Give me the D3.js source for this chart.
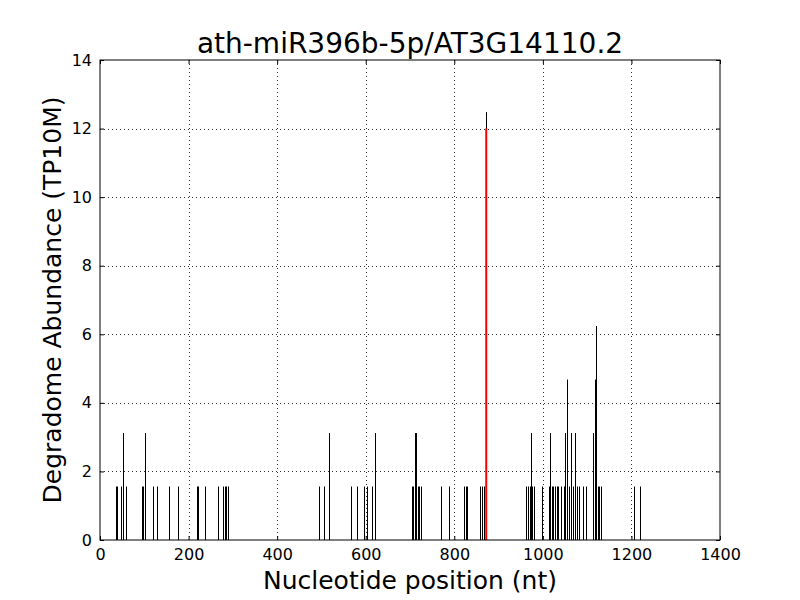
<!DOCTYPE html>
<html lang="en">

<head>
    <meta charset="UTF-8">
    <title>ath-miR396b-5p/AT3G14110.2</title>
    <style>
        body { margin: 0; background: #fff; }
        text { font-family: "DejaVu Sans", sans-serif; }
    </style>
</head>

<body>
    <script src="https://cdn.jsdelivr.net/npm/d3@7"></script>
    <script>
        const title = 'ath-miR396b-5p/AT3G14110.2';
        const x_label = 'Nucleotide position (nt)';
        const y_label = 'Degradome Abundance (TP10M)';

        // degradome reads: position (nt) and abundance (TP10M)
        const positions = [36, 39, 47, 52, 58, 94, 97, 101, 120, 129, 156, 177, 220, 222, 236, 267, 278, 282, 284, 290,
            495, 506, 518, 567, 581, 597, 603, 615, 622, 704, 707, 711, 713, 717, 721, 724, 771, 787, 823, 826, 829,
            859, 862, 866, 871, 963, 967, 971, 974, 976, 981, 997, 1013, 1016, 1020, 1024, 1027, 1031, 1035, 1040,
            1048, 1051, 1055, 1060, 1064, 1069, 1073, 1078, 1081, 1091, 1097, 1114, 1117, 1120, 1124, 1127, 1132,
            1206, 1220];
        const abundance = [1.56, 1.56, 1.56, 3.12, 1.56, 1.56, 1.56, 3.12, 1.56, 1.56, 1.56, 1.56, 1.56, 1.56, 1.56, 1.56, 1.56, 1.56, 1.56, 1.56,
            1.56, 1.56, 3.12, 1.56, 1.56, 1.56, 1.56, 1.56, 3.12, 1.56, 1.56, 3.12, 3.12, 1.56, 1.56, 1.56, 1.56, 1.56, 1.56, 1.56, 1.56,
            1.56, 1.56, 1.56, 12.48, 1.56, 1.56, 1.56, 3.12, 1.56, 1.56, 1.56, 1.56, 3.12, 1.56, 1.56, 1.56, 1.56, 1.56, 1.56,
            1.56, 3.12, 4.68, 1.56, 3.12, 1.56, 3.12, 1.56, 1.56, 1.56, 1.56, 3.12, 4.68, 6.24, 1.56, 1.56, 1.56,
            1.56, 1.56];

        // predicted cleavage site (red)
        const target_pos = [871];
        const target_val = [12.0];

        const x_ticks = [0, 200, 400, 600, 800, 1000, 1200, 1400];
        const y_ticks = [0, 2, 4, 6, 8, 10, 12, 14];

        const svg_w = 800;
        const svg_h = 600;
        const margin = { top: 60, right: 80, bottom: 60, left: 100 };

        const svg = d3.select('body').append('svg')
            .attr('width', svg_w)
            .attr('height', svg_h);

        const x = d3.scaleLinear().domain([0, 1400]).range([margin.left, svg_w - margin.right]);
        const y = d3.scaleLinear().domain([0, 14]).range([svg_h - margin.bottom, margin.top]);

        // dotted grid
        svg.append('g').selectAll('line.gx')
            .data(x_ticks.slice(1, -1))
            .enter().append('line')
            .attr('x1', d => Math.round(x(d)) + 0.5).attr('x2', d => Math.round(x(d)) + 0.5)
            .attr('y1', y(14)).attr('y2', y(0))
            .attr('stroke', '#000').attr('stroke-width', 0.8)
            .attr('stroke-dasharray', '1,3');
        svg.append('g').selectAll('line.gy')
            .data(y_ticks.slice(1, -1))
            .enter().append('line')
            .attr('y1', d => Math.round(y(d)) + 0.5).attr('y2', d => Math.round(y(d)) + 0.5)
            .attr('x1', x(0)).attr('x2', x(1400))
            .attr('stroke', '#000').attr('stroke-width', 0.8)
            .attr('stroke-dasharray', '1,3');

        // reads
        svg.append('g').selectAll('line')
            .data(positions)
            .enter().append('line')
            .attr('x1', d => Math.round(x(d)) + 0.5).attr('x2', d => Math.round(x(d)) + 0.5)
            .attr('y1', y(0))
            .attr('y2', (d, i) => y(abundance[i]))
            .attr('stroke', '#000').attr('stroke-width', 1);

        svg.append('g').selectAll('line')
            .data(target_pos)
            .enter().append('line')
            .attr('x1', d => x(d) + 0.5).attr('x2', d => x(d) + 0.5)
            .attr('y1', y(0))
            .attr('y2', (d, i) => y(target_val[i]))
            .attr('stroke', '#ff0000').attr('stroke-width', 2);

        // axes, matplotlib classic style: ticks inside on all four sides
        const ax_b = svg.append('g').attr('transform', `translate(0,${y(0)})`)
            .call(d3.axisBottom(x).tickValues(x_ticks).tickFormat(d3.format('d'))
                .tickSizeInner(-4).tickSizeOuter(0).tickPadding(9));
        const ax_t = svg.append('g').attr('transform', `translate(0,${y(14)})`)
            .call(d3.axisTop(x).tickValues(x_ticks).tickSizeInner(-4).tickSizeOuter(0).tickFormat(''));
        const ax_l = svg.append('g').attr('transform', `translate(${x(0)},0)`)
            .call(d3.axisLeft(y).tickValues(y_ticks).tickFormat(d3.format('d'))
                .tickSizeInner(-4).tickSizeOuter(0).tickPadding(8));
        const ax_r = svg.append('g').attr('transform', `translate(${x(1400)},0)`)
            .call(d3.axisRight(y).tickValues(y_ticks).tickSizeInner(-4).tickSizeOuter(0).tickFormat(''));

        [ax_b, ax_t, ax_l, ax_r].forEach(a => {
            a.select('.domain').remove();
            a.selectAll('text').attr('font-size', 16).attr('fill', '#000')
                .style('font-family', '"DejaVu Sans", sans-serif');
        });

        svg.append('rect')
            .attr('x', x(0)).attr('y', y(14))
            .attr('width', x(1400) - x(0)).attr('height', y(0) - y(14))
            .attr('fill', 'none').attr('stroke', '#000').attr('stroke-width', 1);

        svg.append('text')
            .attr('x', (x(0) + x(1400)) / 2).attr('y', 53)
            .attr('text-anchor', 'middle').attr('font-size', 28)
            .text(title);

        svg.append('text')
            .attr('x', (x(0) + x(1400)) / 2).attr('y', 589)
            .attr('text-anchor', 'middle').attr('font-size', 25)
            .text(x_label);

        svg.append('text')
            .attr('transform', `translate(61,${(y(0) + y(14)) / 2}) rotate(-90)`)
            .attr('text-anchor', 'middle').attr('font-size', 25)
            .text(y_label);
    </script>
</body>

</html>
